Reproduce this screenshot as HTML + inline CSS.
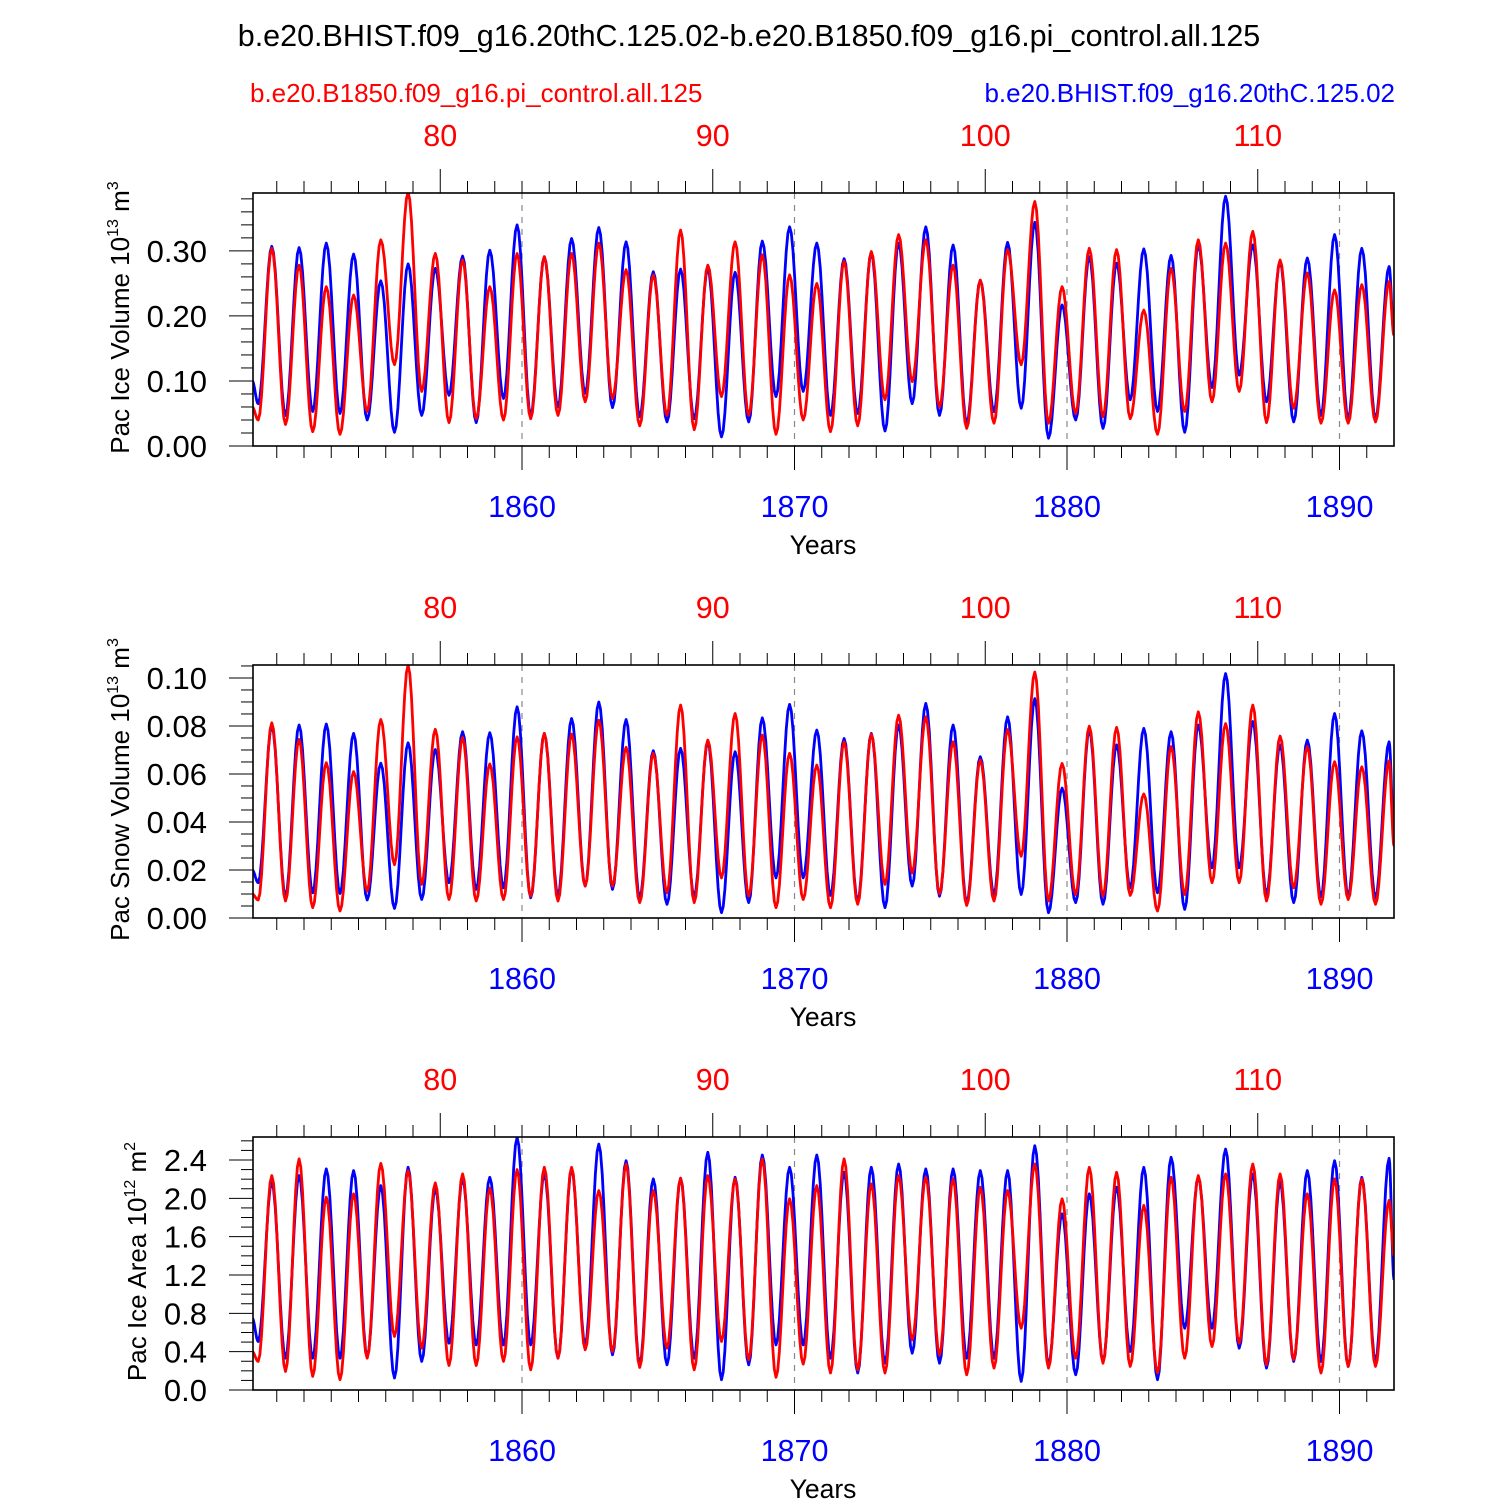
<!DOCTYPE html>
<html><head><meta charset="utf-8">
<style>
html,body{margin:0;padding:0;background:#fff;}
svg{display:block;font-family:"Liberation Sans",Arial,sans-serif;}
</style></head>
<body>
<svg id="chart" width="1500" height="1500" viewBox="0 0 1500 1500" xmlns="http://www.w3.org/2000/svg">
<text x="749" y="46" text-anchor="middle" font-size="30.5" fill="#000">b.e20.BHIST.f09_g16.20thC.125.02-b.e20.B1850.f09_g16.pi_control.all.125</text>
<text x="250" y="102" font-size="26" fill="#ff0000">b.e20.B1850.f09_g16.pi_control.all.125</text>
<text x="1395" y="102" text-anchor="end" font-size="26" fill="#0000ff">b.e20.BHIST.f09_g16.20thC.125.02</text>
<g id="panels"></g>
</svg>
<script>
// ---------- data (per-year seasonal extrema) ----------
const years = [1850,1851,1852,1853,1854,1855,1856,1857,1858,1859,1860,1861,1862,1863,1864,1865,1866,1867,1868,1869,1870,1871,1872,1873,1874,1875,1876,1877,1878,1879,1880,1881,1882,1883,1884,1885,1886,1887,1888,1889,1890,1891];
const redTickLabels = ["80","90","100","110"];
const blueTickLabels = ["1860","1870","1880","1890"];

// Panel 1: Pac Ice Volume
const iceVolBluePeaks = [.307,.305,.312,.295,.254,.280,.273,.292,.301,.340,.291,.319,.336,.314,.268,.272,.273,.267,.315,.337,.312,.288,.297,.312,.337,.309,.255,.313,.344,.217,.291,.281,.303,.293,.309,.384,.309,.283,.289,.325,.304,.276];
const iceVolBlueTroughs = [.065,.047,.053,.050,.040,.021,.047,.078,.036,.073,.047,.060,.081,.059,.045,.037,.042,.014,.037,.076,.084,.047,.050,.023,.065,.047,.035,.053,.058,.012,.040,.027,.071,.053,.021,.090,.109,.068,.037,.047,.042,.042];
const iceVolRedPeaks = [.304,.278,.245,.232,.317,.390,.296,.286,.245,.296,.291,.296,.312,.271,.263,.332,.278,.314,.294,.263,.250,.284,.299,.325,.317,.278,.255,.302,.376,.245,.304,.302,.209,.273,.317,.312,.330,.286,.266,.240,.248,.253];
const iceVolRedTroughs = [.040,.033,.022,.018,.053,.125,.084,.036,.042,.040,.042,.047,.068,.073,.031,.047,.025,.076,.047,.018,.040,.022,.031,.071,.099,.060,.027,.035,.125,.035,.050,.045,.042,.018,.053,.068,.084,.036,.058,.035,.035,.037];
const iceVolEnds = [.10,.17,.06,.17]; // blue start, blue end, red start, red end

// Panel 2: Pac Snow Volume
const snowBluePeaks = [.0800,.0804,.0808,.0769,.0645,.0730,.0702,.0776,.0772,.0880,.0769,.0831,.0900,.0827,.0697,.0707,.0734,.0693,.0834,.0890,.0783,.0748,.0769,.0804,.0894,.0804,.0672,.0838,.0914,.0541,.0783,.0721,.0790,.0776,.0804,.1018,.0818,.0721,.0741,.0852,.0780,.0734];
const snowBlueTroughs = [.0147,.0091,.0105,.0102,.0075,.0040,.0077,.0147,.0119,.0126,.0084,.0094,.0133,.0119,.0084,.0057,.0091,.0022,.0064,.0167,.0167,.0094,.0071,.0043,.0133,.0091,.0064,.0098,.0098,.0022,.0064,.0057,.0126,.0105,.0036,.0209,.0209,.0101,.0064,.0088,.0091,.0084];
const snowRedPeaks = [.0813,.0744,.0647,.0610,.0827,.1053,.0786,.0752,.0642,.0755,.0769,.0766,.0824,.0711,.0686,.0887,.0741,.0852,.0762,.0686,.0637,.0734,.0766,.0845,.0838,.0734,.0658,.0785,.1025,.0644,.0799,.0794,.0517,.0714,.0859,.0810,.0887,.0758,.0714,.0651,.0630,.0655];
const snowRedTroughs = [.0075,.0071,.0043,.0029,.0112,.0222,.0140,.0077,.0071,.0077,.0091,.0071,.0133,.0133,.0064,.0105,.0064,.0167,.0091,.0043,.0077,.0043,.0057,.0140,.0188,.0101,.0052,.0071,.0257,.0071,.0098,.0091,.0094,.0029,.0098,.0147,.0147,.0071,.0126,.0057,.0077,.0057];
const snowEnds = [.020,.035,.010,.030];

// Panel 3: Pac Ice Area
const areaBluePeaks = [2.168,2.237,2.307,2.289,2.133,2.324,2.099,2.203,2.220,2.635,2.255,2.307,2.566,2.393,2.203,2.210,2.480,2.220,2.452,2.324,2.452,2.272,2.324,2.358,2.307,2.307,2.289,2.289,2.549,1.839,2.047,2.116,2.324,2.428,2.220,2.514,2.255,2.168,2.289,2.393,2.220,2.418];
const areaBlueTroughs = [.506,.332,.332,.332,.350,.125,.298,.488,.471,.471,.471,.332,.471,.367,.270,.263,.332,.107,.263,.471,.471,.332,.177,.280,.384,.280,.332,.332,.090,.263,.159,.298,.402,.107,.644,.644,.436,.229,.298,.298,.246,.298];
const areaRedPeaks = [2.237,2.411,2.012,2.047,2.365,2.289,2.161,2.255,2.106,2.300,2.324,2.324,2.081,2.358,2.081,2.210,2.237,2.203,2.411,1.995,2.133,2.411,2.151,2.237,2.220,2.203,2.116,2.081,2.358,1.995,2.324,2.272,1.926,2.220,2.237,2.255,2.358,2.255,2.047,2.203,2.203,1.978];
const areaRedTroughs = [.298,.194,.142,.107,.332,.558,.436,.256,.256,.298,.211,.332,.419,.402,.235,.436,.211,.506,.315,.132,.270,.177,.211,.177,.523,.367,.159,.229,.644,.229,.332,.280,.246,.177,.332,.454,.488,.263,.315,.177,.246,.246];
const areaEnds = [.75,1.15,.40,1.40];

// ---------- layout ----------
const SVGNS = "http://www.w3.org/2000/svg";
const L = 253, R = 1394, H = 253;
const xOf = yr => 249.5 + (yr - 1850) * 27.25;
const X0 = 1850.1, X1 = 1892.0;
const PEAK = 0.82, TROUGH = 0.32;

const panels = [
  {name:"ice-volume", top:193, ymax:0.389, major:0.1, minor:0.02, labels:["0.00","0.10","0.20","0.30"], title:"Pac Ice Volume 10", sup:"13", unit:" m", usup:"3",
   bp:iceVolBluePeaks, bt:iceVolBlueTroughs, rp:iceVolRedPeaks, rt:iceVolRedTroughs, ends:iceVolEnds, titleX:120},
  {name:"snow-volume", top:665, ymax:0.1054, major:0.02, minor:0.005, labels:["0.00","0.02","0.04","0.06","0.08","0.10"], title:"Pac Snow Volume 10", sup:"13", unit:" m", usup:"3",
   bp:snowBluePeaks, bt:snowBlueTroughs, rp:snowRedPeaks, rt:snowRedTroughs, ends:snowEnds, titleX:120},
  {name:"ice-area", top:1137, ymax:2.64, major:0.4, minor:0.1, labels:["0.0","0.4","0.8","1.2","1.6","2.0","2.4"], title:"Pac Ice Area 10", sup:"12", unit:" m", usup:"2",
   bp:areaBluePeaks, bt:areaBlueTroughs, rp:areaRedPeaks, rt:areaRedTroughs, ends:areaEnds, titleX:137}
];

const root = document.getElementById("panels");
function mk(tag, attrs, parent){
  const e = document.createElementNS(SVGNS, tag);
  for (const k in attrs) e.setAttribute(k, attrs[k]);
  (parent||root).appendChild(e);
  return e;
}

function seriesPath(peaks, troughs, ends, startIdx, yOf){
  const pts = [[X0, ends[startIdx]]];
  for (let i = 0; i < years.length; i++){
    pts.push([years[i] + TROUGH, troughs[i]]);
    pts.push([years[i] + PEAK, peaks[i]]);
  }
  pts.push([X1, ends[startIdx+1]]);
  let d = "M" + xOf(pts[0][0]).toFixed(1) + "," + yOf(pts[0][1]).toFixed(1);
  for (let i = 1; i < pts.length; i++){
    const [ta, va] = pts[i-1], [tb, vb] = pts[i];
    const n = 8;
    for (let s = 1; s <= n; s++){
      const f = s / n, w = (1 - Math.cos(Math.PI * f)) / 2;
      const t = ta + (tb - ta) * f, v = va + (vb - va) * w;
      d += "L" + xOf(t).toFixed(1) + "," + yOf(v).toFixed(1);
    }
  }
  return d;
}

panels.forEach(p => {
  const g = mk("g", {});
  
  
  const B = p.top + H;
  const yOf = v => B - v / p.ymax * H;

  blueTickLabels.forEach(lbl => {
    const x = xOf(+lbl);
    const ln = mk("line", {x1:x, x2:x, y1:p.top, y2:B, stroke:"#888", "stroke-width":1.2, "stroke-dasharray":"6,6"}, g);
    
    
  });

  const clip = mk("clipPath", {id:"clip-"+p.name}, g);
  mk("rect", {x:L, y:p.top, width:R-L, height:H}, clip);
  const bl = mk("path", {d:seriesPath(p.bp, p.bt, p.ends, 0, yOf), fill:"none", stroke:"#0000ff", "stroke-width":2.8, "stroke-linejoin":"round", "clip-path":"url(#clip-"+p.name+")"}, g);
  
  
  const rl = mk("path", {d:seriesPath(p.rp, p.rt, p.ends, 2, yOf), fill:"none", stroke:"#ff0000", "stroke-width":2.8, "stroke-linejoin":"round", "clip-path":"url(#clip-"+p.name+")"}, g);
  
  

  const fr = mk("rect", {x:L, y:p.top, width:R-L, height:H, fill:"none", stroke:"#000", "stroke-width":1.6}, g);
  
  

  for (let yr = 1851; yr <= 1891; yr++){
    const x = xOf(yr);
    const majB = (yr % 10 === 0);
    mk("line", {x1:x, x2:x, y1:B, y2:B + (majB ? 24 : 12), stroke:"#000", "stroke-width":1}, g);
    const ryr = yr - 1777;
    const majT = (ryr % 10 === 0);
    mk("line", {x1:x, x2:x, y1:p.top, y2:p.top - (majT ? 24 : 12), stroke:"#000", "stroke-width":1}, g);
  }
  blueTickLabels.forEach(lbl => {
    const t = mk("text", {x:xOf(+lbl), y:B + 71, "text-anchor":"middle", "font-size":30.5, fill:"#0000ff"}, g);
    t.textContent = lbl;
    
    
  });
  redTickLabels.forEach(lbl => {
    const t = mk("text", {x:xOf(+lbl + 1777), y:p.top - 47, "text-anchor":"middle", "font-size":30.5, fill:"#ff0000"}, g);
    t.textContent = lbl;
    
    
  });
  const xt = mk("text", {x:823, y:B + 108, "text-anchor":"middle", "font-size":26.5, fill:"#000"}, g);
  xt.textContent = "Years";
  
  

  const nMinor = Math.floor(p.ymax / p.minor + 1e-6);
  for (let i = 0; i <= nMinor; i++){
    const v = i * p.minor, y = yOf(v);
    const isMaj = Math.abs(v / p.major - Math.round(v / p.major)) < 1e-6;
    mk("line", {x1:L - (isMaj ? 24 : 12), x2:L, y1:y, y2:y, stroke:"#000", "stroke-width":1}, g);
  }
  p.labels.forEach(lbl => {
    const t = mk("text", {x:207, y:yOf(+lbl) + 11, "text-anchor":"end", "font-size":31, fill:"#000"}, g);
    t.textContent = lbl;
    
    
  });
  const cy = p.top + H / 2 - 2;
  const tx = p.titleX + 9;
  const yt = mk("text", {x:tx, y:cy, "text-anchor":"middle", "font-size":26, fill:"#000", transform:"rotate(-90 " + tx + " " + cy + ")"}, g);
  
  
  const s1 = mk("tspan", {}, yt); s1.textContent = p.title;
  const s2 = mk("tspan", {dy:-11, "font-size":16}, yt); s2.textContent = p.sup;
  const s3 = mk("tspan", {dy:11}, yt); s3.textContent = p.unit;
  const s4 = mk("tspan", {dy:-11, "font-size":16}, yt); s4.textContent = p.usup;
});
</script>
</body></html>
